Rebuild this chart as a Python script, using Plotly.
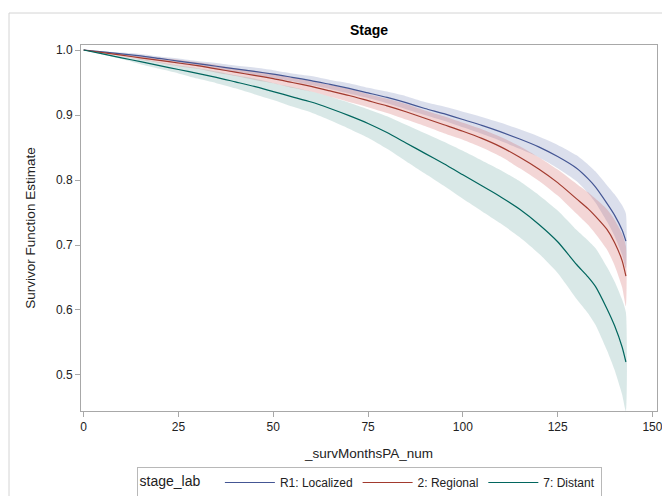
import plotly.graph_objects as go

months = [0, 5, 10, 15, 20, 25, 30, 35, 40, 45, 50, 55, 60, 65, 70, 75, 80, 85, 90,
          95, 100, 105, 110, 115, 120, 125, 130, 133, 135, 138, 140, 142, 143]

loc_surv = [1.000, .997, .994, .991, .987, .983, .979, .975, .971, .967, .963, .958, .953,
            .947, .941, .934, .927, .919, .910, .902, .893, .884, .874, .863, .851, .836,
            .818, .802, .789, .764, .746, .723, .706]
loc_lower = [1.000, .996, .992, .988, .984, .979, .975, .970, .966, .961, .957, .952, .946,
             .940, .933, .926, .918, .909, .900, .891, .881, .871, .860, .848, .835, .818,
             .798, .780, .765, .736, .714, .685, .664]
loc_upper = [1.000, .998, .996, .994, .990, .987, .983, .980, .976, .973, .969, .964, .960,
             .954, .949, .942, .936, .929, .920, .913, .905, .897, .888, .878, .867, .854,
             .838, .824, .813, .792, .778, .761, .748]

reg_surv = [1.000, .996, .992, .988, .984, .980, .976, .971, .966, .961, .956, .950, .944,
            .937, .930, .922, .914, .905, .895, .885, .875, .864, .851, .835, .817, .796,
            .771, .756, .744, .724, .704, .676, .652]
reg_lower = [1.000, .995, .990, .985, .980, .975, .971, .965, .960, .954, .949, .942, .936,
             .928, .920, .912, .903, .893, .883, .872, .862, .850, .836, .818, .799, .776,
             .748, .731, .717, .693, .669, .635, .606]
reg_upper = [1.000, .997, .994, .991, .988, .985, .981, .977, .972, .968, .963, .958, .952,
             .946, .940, .932, .925, .917, .907, .898, .888, .878, .866, .852, .835, .816,
             .794, .781, .771, .755, .739, .717, .698]

dis_surv = [1.000, .994, .988, .982, .976, .970, .964, .958, .951, .944, .936, .928, .920,
            .910, .899, .887, .873, .857, .841, .825, .808, .791, .774, .755, .732, .705,
            .670, .651, .636, .602, .576, .543, .520]
dis_lower = [1.000, .993, .986, .978, .971, .964, .956, .949, .941, .932, .923, .913, .904,
             .892, .879, .865, .848, .829, .810, .791, .771, .752, .733, .712, .687, .657,
             .617, .595, .577, .538, .508, .470, .444]
dis_upper = [1.000, .995, .990, .986, .981, .976, .972, .967, .961, .956, .949, .943, .936,
             .928, .919, .909, .898, .885, .872, .859, .845, .830, .815, .798, .777, .753,
             .723, .707, .695, .666, .644, .616, .596]

series = [
    ("R1: Localized", loc_surv, loc_lower, loc_upper, "#445694", "rgba(111,126,179,0.25)"),
    ("2: Regional", reg_surv, reg_lower, reg_upper, "#A23A2E", "rgba(208,91,91,0.25)"),
    ("7: Distant", dis_surv, dis_lower, dis_upper, "#01665E", "rgba(102,165,160,0.25)"),
]

fig = go.Figure()
for name, s, lo, up, lc, fc in series:
    fig.add_trace(go.Scatter(
        x=months + months[::-1], y=up + lo[::-1], fill="toself", fillcolor=fc,
        line=dict(width=0, shape="spline", smoothing=0.6), mode="lines",
        hoverinfo="skip", showlegend=False))
for name, s, lo, up, lc, fc in series:
    fig.add_trace(go.Scatter(x=months, y=s, mode="lines", name=name,
                             line=dict(color=lc, width=1.2, shape="spline", smoothing=0.6)))

# page body has an 8px margin; figure is sized/positioned to compensate
W, H = 662, 488
L, R, T, B = 73, 13, 37, 85
pw = W - L - R
ph = H - T - B
axis_col = "#a8a8a8"

fig.update_layout(
    width=W, height=H,
    margin=dict(l=L, r=R, t=T, b=B, autoexpand=False),
    paper_bgcolor="white", plot_bgcolor="white",
    font=dict(family="Liberation Sans, Arial, sans-serif", size=12, color="#222"),
    title=dict(text="<b>Stage</b>", x=(L + pw / 2) / W, xanchor="center",
               y=1 - 22 / H, yanchor="middle", font=dict(size=14, color="#000")),
    xaxis=dict(range=[-0.7, 151.2], tickvals=[0, 25, 50, 75, 100, 125, 150],
               showgrid=False, zeroline=False, showline=True, linecolor=axis_col,
               mirror=True, ticks="outside", ticklen=5, tickcolor=axis_col,
               automargin=False, tickfont=dict(size=12),
               title=dict(text="_survMonthsPA_num", font=dict(size=13.5), standoff=15)),
    yaxis=dict(range=[0.4446, 1.0077], tickvals=[0.5, 0.6, 0.7, 0.8, 0.9, 1.0],
               tickformat=".1f", showgrid=False, zeroline=False, showline=True,
               linecolor=axis_col, mirror=True, ticks="outside", ticklen=5,
               tickcolor=axis_col, automargin=False, tickfont=dict(size=12),
               title=dict(text="Survivor Function Estimate", font=dict(size=13.5), standoff=17)),
    legend=dict(orientation="h", xref="container", x=(L + pw / 2) / W, xanchor="center",
                yref="container", y=(H - 459) / H, yanchor="top",
                bordercolor="#b8b8b8", borderwidth=1,
                title=dict(text="stage_lab   ", side="left"),
                font=dict(size=12), itemwidth=50, tracegroupgap=0),
    shapes=[dict(type="rect", xref="paper", yref="paper",
                 x0=(1 - L) / pw, x1=(700 - L) / pw,
                 y0=-(540 - T - ph) / ph, y1=1 + (T - 5) / ph,
                 line=dict(color="#d4d4d4", width=1), fillcolor="rgba(0,0,0,0)", layer="below")],
)

fig.write_html("out.html")
